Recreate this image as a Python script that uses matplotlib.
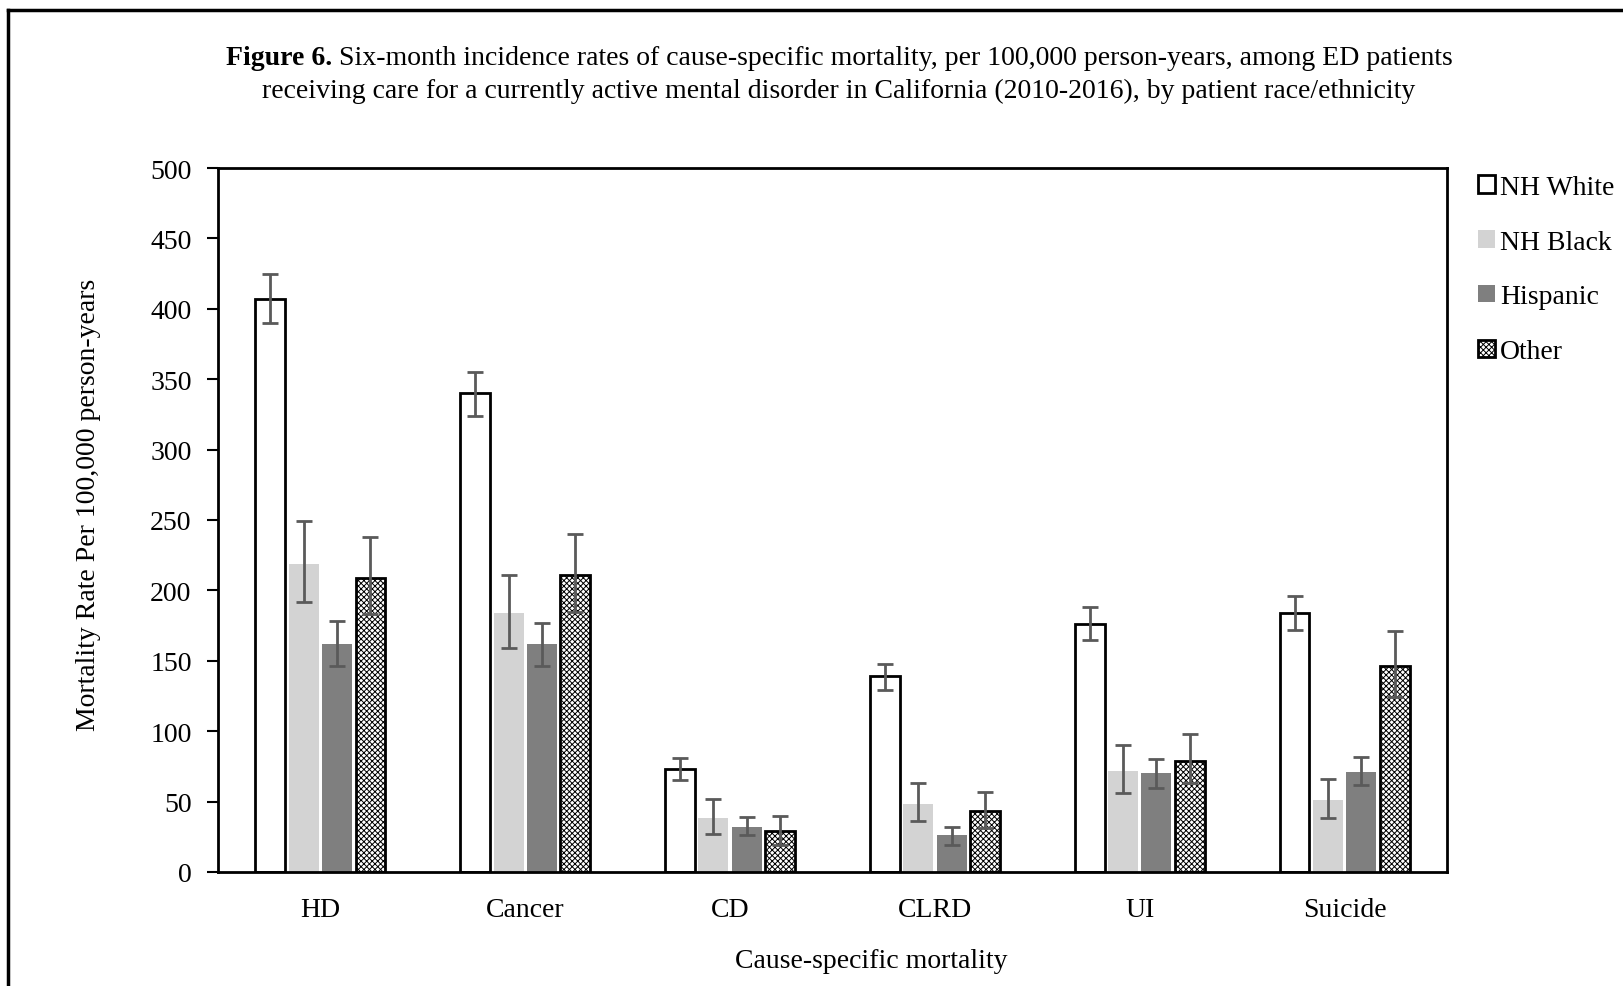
import matplotlib
matplotlib.use("Agg")
import matplotlib.pyplot as plt
import numpy as np
from matplotlib.lines import Line2D

plt.rcParams['font.family'] = ['Liberation Serif', 'DejaVu Serif']
plt.rcParams['hatch.linewidth'] = 0.7

categories = ["HD", "Cancer", "CD", "CLRD", "UI", "Suicide"]
series_names = ["NH White", "NH Black", "Hispanic", "Other"]

nh_white = [407, 340, 73, 139, 176, 184]
nh_white_lo = [390, 324, 65, 129, 165, 172]
nh_white_hi = [425, 355, 81, 148, 188, 196]

nh_black = [219, 184, 38, 48, 72, 51]
nh_black_lo = [192, 159, 27, 36, 56, 38]
nh_black_hi = [249, 211, 52, 63, 90, 66]

hispanic = [162, 162, 32, 26, 70, 71]
hispanic_lo = [146, 146, 26, 19, 60, 62]
hispanic_hi = [178, 177, 39, 32, 80, 82]

other = [209, 211, 29, 43, 79, 146]
other_lo = [183, 185, 19, 31, 63, 124]
other_hi = [238, 240, 40, 57, 98, 171]

values = [nh_white, nh_black, hispanic, other]
lows = [nh_white_lo, nh_black_lo, hispanic_lo, other_lo]
highs = [nh_white_hi, nh_black_hi, hispanic_hi, other_hi]

yticks = [0, 50, 100, 150, 200, 250, 300, 350, 400, 450, 500]

FS = 20
W, H = 1623, 987
fig = plt.figure(figsize=(16.23, 9.87), dpi=100)
ax = fig.add_axes([218/W, 1-873/H, (1447-218)/W, (873-169)/H])

styles = [
    dict(facecolor="white", edgecolor="black", linewidth=2.0),
    dict(facecolor="#d3d3d3", edgecolor="none", linewidth=0),
    dict(facecolor="#7f7f7f", edgecolor="none", linewidth=0),
    dict(facecolor="white", edgecolor="black", linewidth=2.0, hatch="xxxxxx"),
]

x = np.arange(len(categories))
step = 0.163
width = 0.146
offsets = (np.arange(4) - 1.5) * step
for i in range(4):
    v = np.array(values[i])
    lo = v - np.array(lows[i])
    hi = np.array(highs[i]) - v
    ax.bar(x + offsets[i], v, width, label=series_names[i], zorder=2, **styles[i])
    ax.errorbar(x + offsets[i], v, yerr=[lo, hi], fmt="none", ecolor="#5a5a5a",
                elinewidth=2, capsize=6, capthick=2, zorder=3)

ax.set_xlim(-0.5, len(categories) - 0.5)
ax.set_ylim(0, 500)
ax.set_yticks(yticks)
ax.set_xticks(x)
ax.set_xticklabels(categories, fontsize=FS)
ax.tick_params(axis='x', length=0, pad=18)
ax.tick_params(axis='y', length=8, width=1.5, labelsize=FS, pad=11, direction='out')
for s in ax.spines.values():
    s.set_linewidth(2)

# axis labels placed as in the reference
fig.text(871/W, 1 - 962/H, "Cause-specific mortality", fontsize=FS, ha="center", va="center")
fig.text(89/W, 1 - 505/H, "Mortality Rate Per 100,000 person-years", fontsize=FS,
         ha="center", va="center", rotation=90)

leg = ax.legend(loc="upper left", frameon=False,
                fontsize=FS, handlelength=0.6, handleheight=0.6, handletextpad=0.2,
                labelspacing=1.07, borderaxespad=0.0, borderpad=0.0)
leg.set_bbox_to_anchor((1478/W, 1 - 176/H), transform=fig.transFigure)

# Title with bold prefix
fig.canvas.draw()
r = fig.canvas.get_renderer()
t1a = fig.text(0, 0, "Figure 6.", fontsize=FS, fontweight="bold", va="center")
t1b = fig.text(0, 0, " Six-month incidence rates of cause-specific mortality, per 100,000 person-years, among ED patients",
               fontsize=FS, va="center")
wa = t1a.get_window_extent(r).width
wb = t1b.get_window_extent(r).width
total = wa + wb
cx = 839
start = cx - total / 2
y1 = 1 - 59 / H
t1a.set_position((start / W, y1))
t1b.set_position(((start + wa) / W, y1))
fig.text(cx / W, 1 - 91 / H,
         "receiving care for a currently active mental disorder in California (2010-2016), by patient race/ethnicity",
         fontsize=FS, ha="center", va="center")

# figure border (top and left)
fig.add_artist(Line2D([8/W, 1], [1 - 11/H, 1 - 11/H], color="black", linewidth=2.5, transform=fig.transFigure))
fig.add_artist(Line2D([8/W, 8/W], [0, 1 - 11/H], color="black", linewidth=2.5, transform=fig.transFigure))

fig.savefig("out.png", dpi=100)
